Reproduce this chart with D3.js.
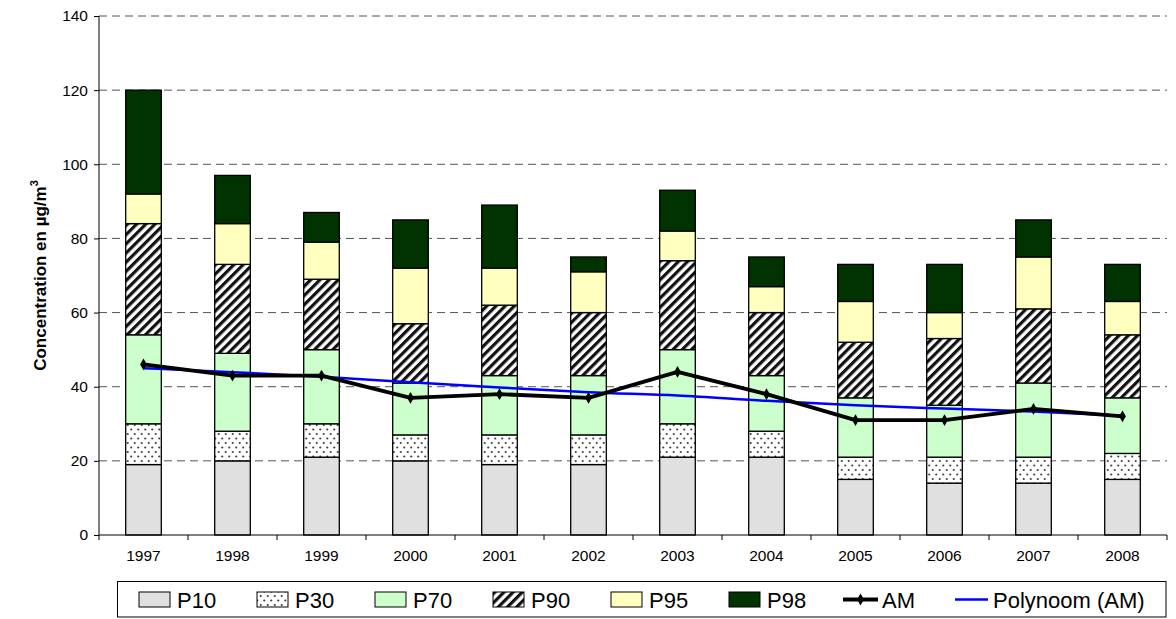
<!DOCTYPE html>
<html>
<head>
<meta charset="utf-8">
<script src="https://cdn.jsdelivr.net/npm/d3@7"></script>
<style>
  html, body { margin: 0; padding: 0; background: #fff; }
  svg { display: block; font-family: "Liberation Sans", Arial, sans-serif; }
</style>
</head>
<body>
<svg id="chart" width="1176" height="619"></svg>
<script>
// ---- data (percentile values per year, µg/m3) ----
const years = ["1997","1998","1999","2000","2001","2002","2003","2004","2005","2006","2007","2008"];
const P10 = [19, 20, 21, 20, 19, 19, 21, 21, 15, 14, 14, 15];
const P30 = [30, 28, 30, 27, 27, 27, 30, 28, 21, 21, 21, 22];
const P70 = [54, 49, 50, 41, 43, 43, 50, 43, 37, 35, 41, 37];
const P90 = [84, 73, 69, 57, 62, 60, 74, 60, 52, 53, 61, 54];
const P95 = [92, 84, 79, 72, 72, 71, 82, 67, 63, 60, 75, 63];
const P98 = [120, 97, 87, 85, 89, 75, 93, 75, 73, 73, 85, 73];
const AM = [46, 43, 43, 37, 38, 37, 44, 38, 31, 31, 34, 32];
const trendAM = [45.0, 43.9, 42.7, 41.2, 39.8, 38.5, 37.6, 36.2, 35.0, 34.1, 33.3, 32.2];
const yTicks = [0, 20, 40, 60, 80, 100, 120, 140];
const seriesNames = ["P10", "P30", "P70", "P90", "P95", "P98"];
const seriesValues = [P10, P30, P70, P90, P95, P98];
const seriesFills = ["#e0e0e0", "url(#dots)", "#ccffcc", "url(#hatch)", "#ffffc0", "#003300"];

// ---- layout ----
const FONT = "'Liberation Sans', Arial, sans-serif";
const svg = d3.select("#chart");
const L = 99, R = 1167, T = 16, B = 535;

const x = d3.scaleBand().domain(years).range([L, R]).paddingInner(0.6).paddingOuter(0.3);
const xOuter = d3.scaleBand().domain(years).range([L, R]);
const y = d3.scaleLinear().domain([0, 140]).range([B, T]);

// patterns
const defs = svg.append("defs");
const dots = defs.append("pattern").attr("id", "dots").attr("patternUnits", "userSpaceOnUse")
  .attr("width", 7).attr("height", 9);
dots.append("rect").attr("width", 7).attr("height", 9).attr("fill", "#fff");
dots.append("circle").attr("cx", 1.75).attr("cy", 2).attr("r", 1.1).attr("fill", "#444");
dots.append("circle").attr("cx", 5.25).attr("cy", 6.5).attr("r", 1.1).attr("fill", "#444");

const hatch = defs.append("pattern").attr("id", "hatch").attr("patternUnits", "userSpaceOnUse")
  .attr("width", 6.5).attr("height", 6.5).attr("patternTransform", "rotate(45)");
hatch.append("rect").attr("width", 6.5).attr("height", 6.5).attr("fill", "#fff");
hatch.append("rect").attr("x", 0).attr("width", 3.2).attr("height", 6.5).attr("fill", "#111");

// gridlines
svg.append("g").selectAll("line").data(yTicks.filter(d => d > 0)).join("line")
  .attr("x1", L).attr("x2", R)
  .attr("y1", d => y(d)).attr("y2", d => y(d))
  .attr("stroke", "#555").attr("stroke-width", 1).attr("stroke-dasharray", "8,5");

// stacked bars
const barG = svg.append("g");
seriesValues.forEach((vals, si) => {
  barG.append("g").selectAll("rect").data(years).join("rect")
    .attr("x", (d) => x(d))
    .attr("width", x.bandwidth())
    .attr("y", (d, i) => y(vals[i]))
    .attr("height", (d, i) => y(si === 0 ? 0 : seriesValues[si - 1][i]) - y(vals[i]))
    .attr("fill", seriesFills[si])
    .attr("stroke", "#000").attr("stroke-width", 1.3);
});

// axes
const yAxis = d3.axisLeft(y).tickValues(yTicks).tickSize(5).tickPadding(6);
const gy = svg.append("g").attr("transform", `translate(${L},0)`).call(yAxis);
gy.select(".domain").attr("stroke", "#000").attr("d", `M0,${B}V${T}`);
gy.selectAll(".tick line").attr("stroke", "#000");
gy.selectAll(".tick text").attr("font-size", 15.5).attr("fill", "#000").attr("font-family", FONT);

const gx = svg.append("g").attr("transform", `translate(0,${B})`);
gx.append("line").attr("x1", L).attr("x2", R).attr("y1", 0).attr("y2", 0).attr("stroke", "#000");
gx.selectAll("line.tk").data(years.concat(["end"])).join("line").attr("class", "tk")
  .attr("x1", (d, i) => i < years.length ? xOuter(d) : R)
  .attr("x2", (d, i) => i < years.length ? xOuter(d) : R)
  .attr("y1", 0).attr("y2", 5).attr("stroke", "#000");
gx.selectAll("text").data(years).join("text")
  .attr("x", d => xOuter(d) + xOuter.bandwidth() / 2)
  .attr("y", 26).attr("text-anchor", "middle").attr("font-family", FONT)
  .attr("font-size", 15.5).attr("fill", "#000").text(d => d);

// y title
const yt = svg.append("text")
  .attr("transform", `translate(46,${(T + B) / 2}) rotate(-90)`)
  .attr("text-anchor", "middle").attr("font-size", 17).attr("font-weight", "bold")
  .attr("font-family", FONT).attr("fill", "#000");
yt.append("tspan").text("Concentration en µg/m");
yt.append("tspan").attr("font-size", 11).attr("dy", -8).text("3");

// lines
const cx = d => xOuter(d) + xOuter.bandwidth() / 2;
const trendLine = d3.line().x((d, i) => cx(years[i])).y(d => y(d)).curve(d3.curveMonotoneX);
svg.append("path").datum(trendAM).attr("d", trendLine)
  .attr("fill", "none").attr("stroke", "#0000ff").attr("stroke-width", 2.5);

const amLine = d3.line().x((d, i) => cx(years[i])).y(d => y(d));
svg.append("path").datum(AM).attr("d", amLine)
  .attr("fill", "none").attr("stroke", "#000").attr("stroke-width", 3.8).attr("stroke-linejoin", "round");
svg.append("g").selectAll("path").data(AM).join("path")
  .attr("transform", (d, i) => `translate(${cx(years[i])},${y(d)})`)
  .attr("d", d3.symbol().type(d3.symbolDiamond).size(40))
  .attr("fill", "#000");

// legend
const lg = svg.append("g").attr("font-family", FONT);
lg.append("rect").attr("x", 117.5).attr("y", 581.5).attr("width", 1048.5).attr("height", 35.5)
  .attr("fill", "#fff").attr("stroke", "#000").attr("stroke-width", 1);
seriesNames.forEach((name, i) => {
  const lx = 139 + i * 118;
  lg.append("rect").attr("x", lx).attr("y", 592).attr("width", 31).attr("height", 15)
    .attr("fill", seriesFills[i]).attr("stroke", "#000").attr("stroke-width", 1);
  lg.append("text").attr("x", lx + 38).attr("y", 607.5).attr("font-size", 22).attr("fill", "#000").text(name);
});
lg.append("line").attr("x1", 843).attr("x2", 878).attr("y1", 599.5).attr("y2", 599.5)
  .attr("stroke", "#000").attr("stroke-width", 3.8);
lg.append("path").attr("transform", "translate(860.5,599.5)")
  .attr("d", d3.symbol().type(d3.symbolDiamond).size(40)).attr("fill", "#000");
lg.append("text").attr("x", 882).attr("y", 607.5).attr("font-size", 22).attr("fill", "#000").text("AM");
lg.append("line").attr("x1", 955).attr("x2", 988).attr("y1", 599.5).attr("y2", 599.5)
  .attr("stroke", "#0000ff").attr("stroke-width", 2.5);
lg.append("text").attr("x", 993).attr("y", 607.5).attr("font-size", 22).attr("fill", "#000").text("Polynoom (AM)");
</script>
</body>
</html>
